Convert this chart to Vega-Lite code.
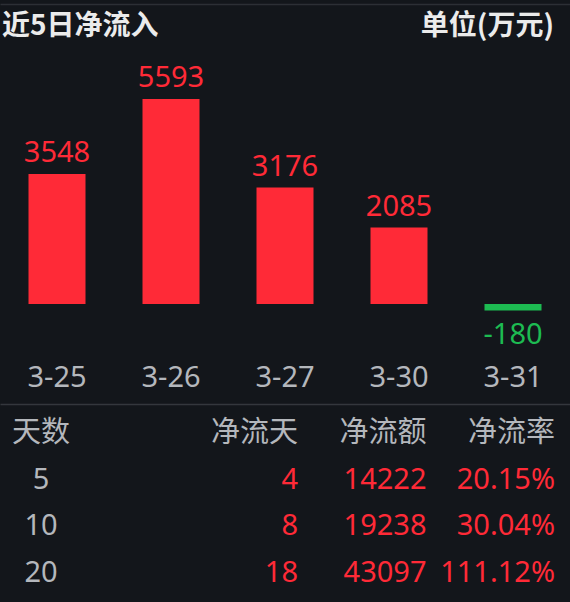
{
  "$schema": "https://vega.github.io/schema/vega-lite/v6.json",
  "background": "#13161b",
  "padding": 0,
  "spacing": 0,
  "vconcat": [
    {
      "width": 570,
      "height": 54,
      "data": {
        "values": [
          {"side": "left", "label": "近5日净流入"},
          {"side": "right", "label": "单位(万元)"}
        ]
      },
      "encoding": {
        "x": {
          "field": "side",
          "type": "nominal",
          "scale": {"type": "point", "domain": ["left", "right"], "range": [0, 570], "padding": 0},
          "axis": {
            "orient": "top",
            "offset": -4,
            "labels": false,
            "ticks": false,
            "title": null,
            "domainColor": "#2c2f35",
            "domainWidth": 1.5
          }
        },
        "text": {"field": "label"}
      },
      "layer": [
        {
          "transform": [{"filter": "datum.side == 'left'"}],
          "mark": {"type": "text", "align": "left", "dx": 2, "fontSize": 28, "fontWeight": "bold", "color": "#ebebeb"}
        },
        {
          "transform": [{"filter": "datum.side == 'right'"}],
          "mark": {"type": "text", "align": "right", "dx": -16, "fontSize": 28, "fontWeight": "bold", "color": "#ebebeb"}
        }
      ]
    },
    {
      "width": 570,
      "height": 350,
      "data": {
        "values": [
          {"date": "3-25", "flow": 3548},
          {"date": "3-26", "flow": 5593},
          {"date": "3-27", "flow": 3176},
          {"date": "3-30", "flow": 2085},
          {"date": "3-31", "flow": -180}
        ]
      },
      "encoding": {
        "x": {
          "field": "date",
          "type": "nominal",
          "sort": null,
          "scale": {"paddingInner": 0.5, "paddingOuter": 0.25},
          "axis": {
            "title": null,
            "labelAngle": 0,
            "ticks": false,
            "tickSize": 0,
            "labelPadding": -27,
            "labelBaseline": "middle",
            "labelFont": "Noto Sans",
            "labelFontSize": 29,
            "labelColor": "#b4b7bc",
            "domainColor": "#34373d",
            "domainWidth": 1.5
          }
        },
        "y": {
          "field": "flow",
          "type": "quantitative",
          "scale": {"domain": [-2728, 6819], "nice": false, "zero": false},
          "axis": null
        }
      },
      "layer": [
        {
          "mark": {"type": "bar"},
          "encoding": {
            "color": {
              "condition": {"test": "datum.flow < 0", "value": "#1dbb52"},
              "value": "#ff2a37"
            }
          }
        },
        {
          "transform": [{"filter": "datum.flow >= 0"}],
          "mark": {"type": "text", "baseline": "alphabetic", "dy": -12, "font": "Noto Sans", "fontSize": 29, "color": "#ff2a37"},
          "encoding": {"text": {"field": "flow"}}
        },
        {
          "transform": [{"filter": "datum.flow < 0"}],
          "mark": {"type": "text", "baseline": "top", "dy": 10, "font": "Noto Sans", "fontSize": 29, "color": "#1dbb52"},
          "encoding": {"text": {"field": "flow"}}
        }
      ]
    },
    {
      "width": 570,
      "height": 198,
      "data": {
        "values": [
          {"row": 0, "col": "c1", "cell": "天数", "tone": "gray"},
          {"row": 0, "col": "c2", "cell": "净流天", "tone": "gray"},
          {"row": 0, "col": "c3", "cell": "净流额", "tone": "gray"},
          {"row": 0, "col": "c4", "cell": "净流率", "tone": "gray"},
          {"row": 1, "col": "c1", "cell": "5", "tone": "gray"},
          {"row": 1, "col": "c2", "cell": "4", "tone": "red"},
          {"row": 1, "col": "c3", "cell": "14222", "tone": "red"},
          {"row": 1, "col": "c4", "cell": "20.15%", "tone": "red"},
          {"row": 2, "col": "c1", "cell": "10", "tone": "gray"},
          {"row": 2, "col": "c2", "cell": "8", "tone": "red"},
          {"row": 2, "col": "c3", "cell": "19238", "tone": "red"},
          {"row": 2, "col": "c4", "cell": "30.04%", "tone": "red"},
          {"row": 3, "col": "c1", "cell": "20", "tone": "gray"},
          {"row": 3, "col": "c2", "cell": "18", "tone": "red"},
          {"row": 3, "col": "c3", "cell": "43097", "tone": "red"},
          {"row": 3, "col": "c4", "cell": "111.12%", "tone": "red"}
        ]
      },
      "encoding": {
        "x": {
          "field": "col",
          "type": "nominal",
          "scale": {"type": "point", "domain": ["c1", "gap", "c2", "c3", "c4"], "range": [41, 555], "padding": 0},
          "axis": null
        },
        "y": {
          "field": "row",
          "type": "ordinal",
          "scale": {"type": "point", "padding": 0.62},
          "axis": null
        },
        "text": {"field": "cell"},
        "color": {
          "field": "tone",
          "type": "nominal",
          "scale": {"domain": ["gray", "red"], "range": ["#b4b7bc", "#ff2a37"]},
          "legend": null
        }
      },
      "layer": [
        {
          "transform": [{"filter": "datum.col == 'c1'"}],
          "mark": {"type": "text", "align": "center", "baseline": "middle", "font": "Noto Sans, Noto Sans CJK SC", "fontSize": 29}
        },
        {
          "transform": [{"filter": "datum.col != 'c1'"}],
          "mark": {"type": "text", "align": "right", "baseline": "middle", "font": "Noto Sans, Noto Sans CJK SC", "fontSize": 29}
        }
      ]
    }
  ],
  "config": {
    "font": "Noto Sans CJK SC",
    "view": {"stroke": null},
    "concat": {"spacing": 0}
  }
}
